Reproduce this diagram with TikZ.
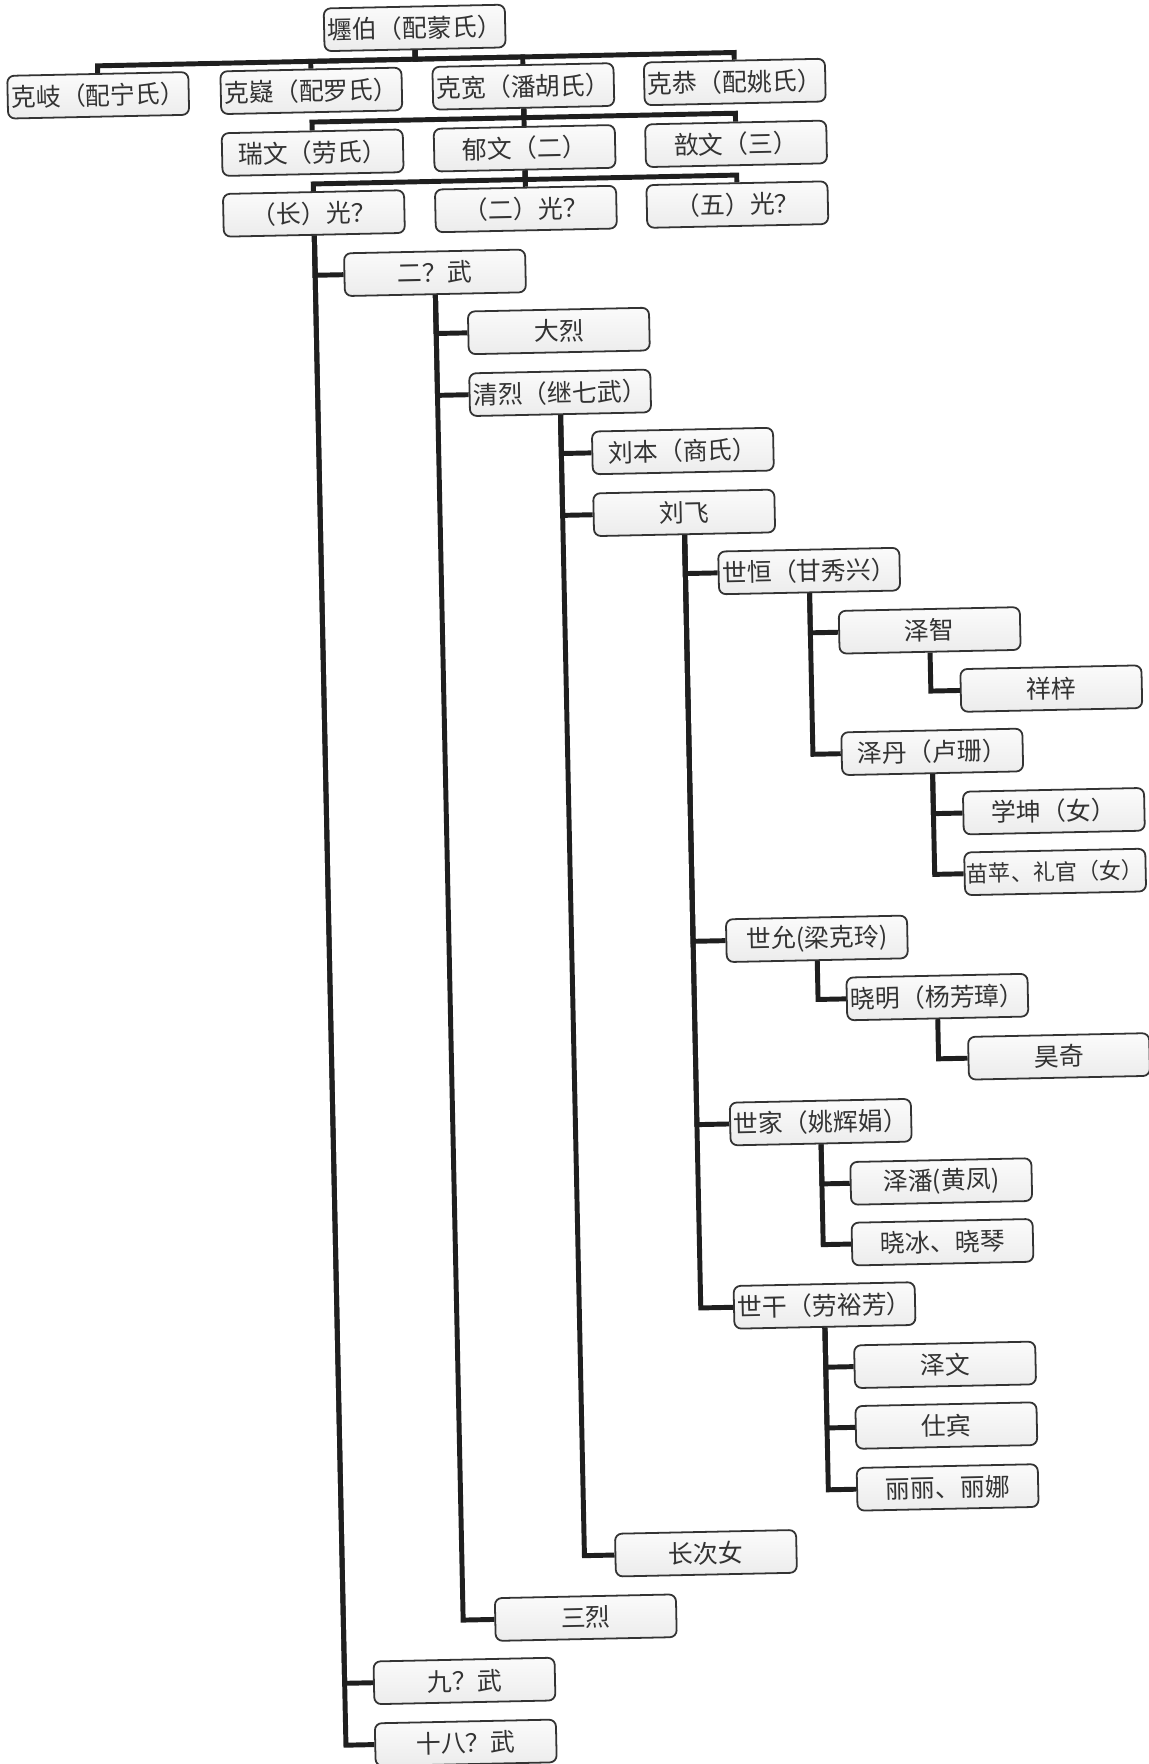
\documentclass[tikz,border=0pt]{standalone}
\usepackage{fontspec}
\newfontfamily\cjk{Noto Sans CJK SC}
\begin{document}
\begin{tikzpicture}[
	x=0.02cm, y=-0.02cm,
	person/.style={ draw=black!80, line width=0.9pt, rounded corners=3.5pt, top color=gray!3, bottom color=gray!15,
		minimum width=3.22cm, minimum height=0.76cm, inner sep=0.5pt, text=black!80, font=\cjk\fontsize{12.6}{14}\selectfont },
	narrow/.style={ font=\cjk\fontsize{11.2}{14}\selectfont },
	link/.style={ draw=black!88, line width=2.5pt, line join=miter }
]

\fill[white] (0,0) rectangle (1021,1568);
\useasboundingbox (0,0) rectangle (1021,1568);

\begin{scope}[rotate around={1.2:(510,784)}, transform shape]
\node at (384.5,22) (root) [person] {壥伯（配蒙氏）};
\node at (102,76) (kq) [person] {克岐（配宁氏）};
\node at (291.5,76) (kn) [person] {克嶷（配罗氏）};
\node at (480,76) (kk) [person] {克宽（潘胡氏）};
\node at (668,76) (kg) [person] {克恭（配姚氏）};
\node at (291.5,131) (rw) [person] {瑞文（劳氏）};
\node at (480,131) (yw) [person] {郁文（二）};
\node at (668,131) (qw) [person] {敨文（三）};
\node at (291.5,185) (g1) [person] {（长）光？};
\node at (480,185) (g2) [person] {（二）光？};
\node at (668,185) (g5) [person] {（五）光？};
\node at (398,240) (w2) [person] {二？武};
\node at (507,294) (dl) [person] {大烈};
\node at (507,349) (ql) [person] {清烈（继七武）};
\node at (615,403) (lb) [person] {刘本（商氏）};
\node at (615,458) (lf) [person] {刘飞};
\node at (725,512) (sh) [person] {世恒（甘秀兴）};
\node at (831,567) (zz) [person] {泽智};
\node at (938,621) (xz) [person] {祥梓};
\node at (831,675) (zd) [person] {泽丹（卢珊）};
\node at (938,730) (xk) [person] {学坤（女）};
\node at (938,784) (mp) [person,narrow] {苗苹、礼官（女）};
\node at (725,839) (sy) [person] {世允(梁克玲)};
\node at (831,893) (xm) [person] {晓明（杨芳璋）};
\node at (938,948) (hq) [person] {昊奇};
\node at (725,1002) (sj) [person] {世家（姚辉娟）};
\node at (831,1057) (zp) [person] {泽潘(黄凤)};
\node at (831,1111) (xb) [person] {晓冰、晓琴};
\node at (725,1165) (sg) [person] {世干（劳裕芳）};
\node at (831,1220) (zw) [person] {泽文};
\node at (831,1274) (sb) [person] {仕宾};
\node at (831,1329) (ll) [person] {丽丽、丽娜};
\node at (615,1383) (cn) [person] {长次女};
\node at (507,1438) (sl) [person] {三烈};
\node at (398,1492) (w9) [person] {九？武};
\node at (398,1547) (w18) [person] {十八？武};

% top rows
\foreach \c in {kq,kn,kk,kg} \draw[link] (root.south) -- ++(0,8) -| (\c.north);
\foreach \c in {rw,yw,qw} \draw[link] (kk.south) -- ++(0,8) -| (\c.north);
\foreach \c in {g1,g2,g5} \draw[link] (yw.south) -- ++(0,8) -| (\c.north);

% branches
\foreach \c in {w2,w9,w18} \draw[link] (g1.south) |- (\c.west);
\foreach \c in {dl,ql,sl} \draw[link] (w2.south) |- (\c.west);
\foreach \c in {lb,lf,cn} \draw[link] (ql.south) |- (\c.west);
\foreach \c in {sh,sy,sj,sg} \draw[link] (lf.south) |- (\c.west);
\foreach \c in {zz,zd} \draw[link] (sh.south) |- (\c.west);
\draw[link] (zz.south) |- (xz.west);
\foreach \c in {xk,mp} \draw[link] (zd.south) |- (\c.west);
\draw[link] (sy.south) |- (xm.west);
\draw[link] (xm.south) |- (hq.west);
\foreach \c in {zp,xb} \draw[link] (sj.south) |- (\c.west);
\foreach \c in {zw,sb,ll} \draw[link] (sg.south) |- (\c.west);
\end{scope}

\end{tikzpicture}
\end{document}
